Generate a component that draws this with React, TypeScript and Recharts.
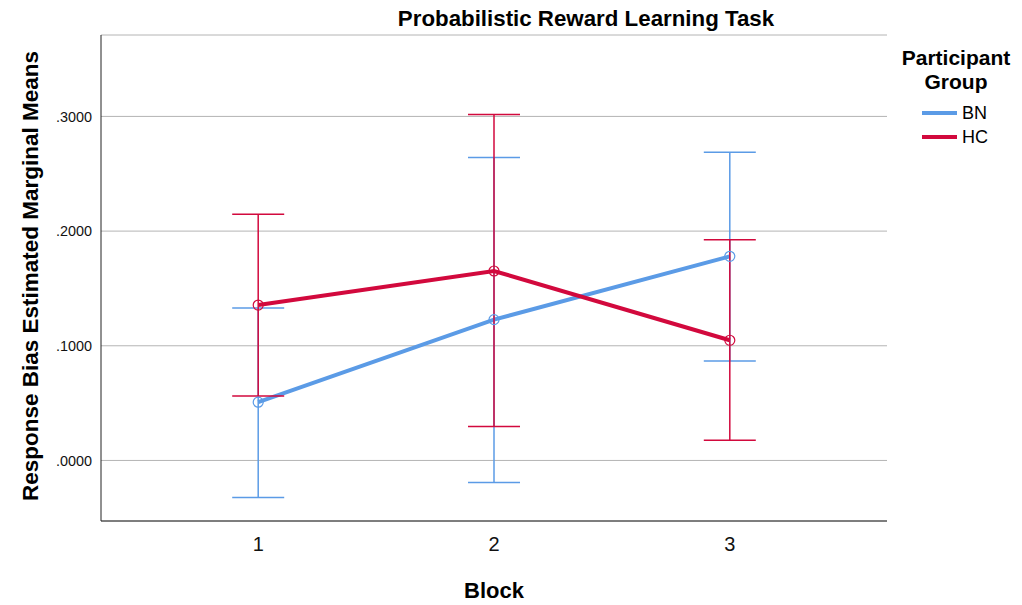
import { ComposedChart, Line, XAxis, YAxis, CartesianGrid, ErrorBar, Label } from 'recharts';

// Estimated marginal means and 95% CI bounds
const blocks = [1, 2, 3];
const bnMeans = [0.0508, 0.1228, 0.178];
const bnLower = [-0.0322, -0.0192, 0.0868];
const bnUpper = [0.1329, 0.2642, 0.2688];
const hcMeans = [0.1355, 0.1652, 0.1048];
const hcLower = [0.0563, 0.0296, 0.0177];
const hcUpper = [0.2146, 0.3017, 0.1925];
const yTicks = [0, 0.1, 0.2, 0.3];
const groups = [
  { name: 'BN', color: '#5b9be6' },
  { name: 'HC', color: '#d2093d' },
];

const BN_COLOR = groups[0].color;
const HC_COLOR = groups[1].color;
const FONT = 'Arial, "Liberation Sans", sans-serif';

const data = blocks.map((block, i) => ({
  block,
  bn: bnMeans[i],
  bnErr: [bnMeans[i] - bnLower[i], bnUpper[i] - bnMeans[i]],
  hc: hcMeans[i],
  hcErr: [hcMeans[i] - hcLower[i], hcUpper[i] - hcMeans[i]],
}));

const fmtTick = (v: number) => v.toFixed(4).replace(/^0/, '');

const LegendBox = () => (
  <div style={{ position: 'absolute', left: 893, top: 46, width: 126, fontFamily: FONT, color: '#000' }}>
    <div style={{ fontWeight: 'bold', fontSize: 21, lineHeight: '24px', textAlign: 'center' }}>
      <div>Participant</div>
      <div>Group</div>
    </div>
    {groups.map((item, i) => (
      <div key={item.name} style={{ display: 'flex', alignItems: 'center', height: 24, marginTop: i === 0 ? 7 : 0, marginLeft: 29 }}>
        <div style={{ width: 35, height: 4, background: item.color, marginRight: 5 }} />
        <span style={{ fontSize: 18, lineHeight: '20px' }}>{item.name}</span>
      </div>
    ))}
  </div>
);

export default function App() {
  return (
    <div style={{ position: 'absolute', left: 0, top: 0, width: 1022, height: 605, background: '#fff' }}>
      <div
        style={{
          position: 'absolute',
          left: 386,
          width: 400,
          top: 6,
          textAlign: 'center',
          fontFamily: FONT,
          fontWeight: 'bold',
          fontSize: 22.3,
          whiteSpace: 'nowrap',
        }}
      >
        Probabilistic Reward Learning Task
      </div>
      <LegendBox />
      <ComposedChart width={1022} height={605} data={data} margin={{ top: 35, right: 135, bottom: 0, left: 0 }}>
        <CartesianGrid vertical={false} stroke="#b4b4b4" strokeWidth={1} />
        <XAxis
          dataKey="block"
          type="number"
          domain={[1 / 3, 11 / 3]}
          ticks={blocks}
          allowDataOverflow
          height={84}
          tickLine={false}
          tickSize={0}
          tickMargin={16}
          axisLine={{ stroke: '#222', strokeWidth: 1 }}
          tick={{ fontSize: 20, fill: '#111', fontFamily: FONT }}
        >
          <Label
            content={() => (
              <text x={494} y={590} textAnchor="middle" dominantBaseline="central" fontFamily={FONT} fontWeight="bold" fontSize={22} fill="#000">
                Block
              </text>
            )}
          />
        </XAxis>
        <YAxis
          type="number"
          domain={[-0.0528, 0.371]}
          ticks={yTicks}
          allowDataOverflow
          width={101}
          tickLine={false}
          tickSize={0}
          tickMargin={9}
          tickFormatter={fmtTick}
          axisLine={{ stroke: '#222', strokeWidth: 1 }}
          tick={{ fontSize: 14.4, fill: '#111', fontFamily: FONT }}
        >
          <Label
            content={() => (
              <text
                x={30}
                y={276}
                transform="rotate(-90, 30, 276)"
                textAnchor="middle"
                dominantBaseline="central"
                fontFamily={FONT}
                fontWeight="bold"
                fontSize={22.5}
                fill="#000"
              >
                Response Bias Estimated Marginal Means
              </text>
            )}
          />
        </YAxis>
        <Line
          dataKey="bn"
          name="BN"
          stroke={BN_COLOR}
          strokeWidth={4}
          dot={{ r: 5, fill: 'none', stroke: BN_COLOR, strokeWidth: 1.2 }}
          activeDot={false}
          isAnimationActive={false}
        >
          <ErrorBar dataKey="bnErr" direction="y" width={26} stroke={BN_COLOR} strokeWidth={1.5} isAnimationActive={false} />
        </Line>
        <Line
          dataKey="hc"
          name="HC"
          stroke={HC_COLOR}
          strokeWidth={4}
          dot={{ r: 5, fill: 'none', stroke: HC_COLOR, strokeWidth: 1.2 }}
          activeDot={false}
          isAnimationActive={false}
        >
          <ErrorBar dataKey="hcErr" direction="y" width={26} stroke={HC_COLOR} strokeWidth={1.5} isAnimationActive={false} />
        </Line>
      </ComposedChart>
    </div>
  );
}
